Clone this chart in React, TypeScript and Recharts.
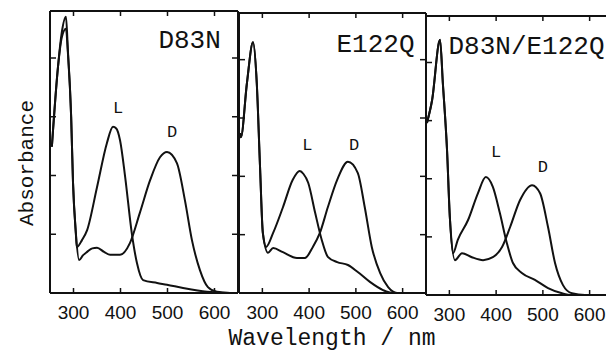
import React from 'react';
import { LineChart, Line, XAxis, YAxis, ReferenceDot } from 'recharts';

// ---- data: [wavelength nm, absorbance (arb. units)] ----
const WAVE_TICKS = [300, 400, 500, 600];
const ABS_TICKS = [1, 2, 3, 4];

const d83nL = [
  [254, 2.49], [256, 2.72], [267, 3.85], [275, 4.43], [284, 4.7], [288, 4.14], [295, 3.0], [299, 1.87],
  [305, 1.02], [307, 0.78], [318, 0.9], [329, 1.07], [350, 1.8], [371, 2.55], [384, 2.83], [391, 2.8],
  [399, 2.6], [410, 1.97], [424, 1.02], [435, 0.51], [448, 0.22], [478, 0.17], [499, 0.14], [533, 0.085],
  [584, 0.02], [633, 0.0],
];
const d83nD = [
  [254, 2.49], [256, 2.72], [267, 3.85], [275, 4.35], [284, 4.5], [288, 4.1], [295, 3.0], [299, 1.87],
  [305, 1.02], [312, 0.56], [320, 0.64], [329, 0.7], [340, 0.76], [350, 0.77], [365, 0.7], [378, 0.65],
  [399, 0.65], [420, 0.85], [441, 1.36], [463, 1.92], [484, 2.31], [499, 2.4], [520, 2.21], [537, 1.58],
  [552, 0.9], [569, 0.39], [586, 0.1], [605, 0.02], [633, 0.0],
];

const e122qL = [
  [252, 2.74], [254, 2.67], [267, 3.6], [280, 4.3], [288, 3.6], [295, 2.16], [301, 1.03], [308, 0.79],
  [323, 1.03], [344, 1.47], [365, 1.94], [380, 2.09], [388, 2.04], [398, 1.89], [413, 1.37], [427, 0.91],
  [440, 0.62], [460, 0.53], [483, 0.48], [504, 0.36], [530, 0.19], [558, 0.05], [579, 0.0], [640, 0.0],
];
const e122qD = [
  [252, 2.74], [254, 2.67], [267, 3.6], [280, 4.3], [288, 3.6], [295, 2.16], [301, 1.03], [312, 0.69],
  [323, 0.77], [344, 0.7], [374, 0.6], [391, 0.6], [408, 0.79], [423, 1.03], [440, 1.47], [460, 1.94],
  [483, 2.25], [504, 2.06], [519, 1.47], [534, 0.79], [552, 0.34], [569, 0.1], [588, 0.0], [640, 0.0],
];

const dblL = [
  [252, 2.96], [263, 3.35], [280, 4.39], [286, 3.65], [295, 2.49], [301, 1.34], [308, 0.72], [318, 0.95],
  [340, 1.29], [361, 1.75], [378, 2.03], [393, 1.86], [408, 1.41], [423, 0.89], [436, 0.55], [455, 0.38],
  [483, 0.26], [511, 0.12], [541, 0.03], [562, 0.0], [640, 0.0],
];
const dblD = [
  [252, 2.96], [263, 3.35], [280, 4.39], [286, 3.65], [295, 2.49], [301, 1.34], [312, 0.6], [327, 0.72],
  [348, 0.65], [372, 0.6], [393, 0.65], [413, 0.83], [430, 1.17], [451, 1.63], [477, 1.89], [494, 1.75],
  [511, 1.17], [526, 0.55], [543, 0.17], [562, 0.03], [590, 0.0], [640, 0.0],
];

// annotation text anchored in data units: [text, nm, absorbance, kind]
const d83nNotes: [string, number, number, string][] = [
  ['D83N', 547, 4.17, 'title'], ['L', 395, 3.06, 'band'], ['D', 510, 2.66, 'band'],
];
const e122qNotes: [string, number, number, string][] = [
  ['E122Q', 542, 4.13, 'title'], ['L', 396, 2.45, 'band'], ['D', 496, 2.45, 'band'],
];
const dblNotes: [string, number, number, string][] = [
  ['D83N/E122Q', 465, 4.15, 'title'], ['L', 400, 2.37, 'band'], ['D', 500, 2.12, 'band'],
];

const toRows = (arr: number[][]) => arr.map(([nm, a]) => ({ nm, a }));

// ---- layout ----
const W = 640;
const H = 356;
const HT = 10, HB = 40, WL = 10, WR = 10;
const INK = '#111';
const MONO = '"Liberation Mono", "DejaVu Sans Mono", monospace';
const SANS = '"Liberation Sans", Arial, sans-serif';

const panels = [
  { key: 'p1', L: d83nL, D: d83nD, notes: d83nNotes, left: 50, right: 238, top: 11, bottom: 293 },
  { key: 'p2', L: e122qL, D: e122qD, notes: e122qNotes, left: 239, right: 426, top: 13, bottom: 293 },
  { key: 'p3', L: dblL, D: dblD, notes: dblNotes, left: 426, right: 613, top: 16, bottom: 295 },
];

const BottomTick = (props: any) => {
  const { x, y, payload } = props;
  return (
    <g>
      <line x1={x} y1={y} x2={x} y2={y - 5} stroke={INK} strokeWidth={1.5} />
      <text x={x} y={y + 25.5} textAnchor="middle" fontFamily={SANS} fontSize={19} fill={INK}>
        {payload.value}
      </text>
    </g>
  );
};
const TopTick = (props: any) => {
  const { x, y } = props;
  return <line x1={x} y1={y} x2={x} y2={y + 5} stroke={INK} strokeWidth={1.5} />;
};
const LeftTick = (props: any) => {
  const { x, y } = props;
  return <line x1={x} y1={y} x2={x + 6} y2={y} stroke={INK} strokeWidth={1.5} />;
};
const RightTick = (props: any) => {
  const { x, y } = props;
  return <line x1={x} y1={y} x2={x - 6} y2={y} stroke={INK} strokeWidth={1.5} />;
};

const NoteShape = (text: string, kind: string) => (p: any) => (
  <text
    x={p.cx}
    y={p.cy}
    textAnchor="middle"
    fontFamily={MONO}
    fontSize={kind === 'title' ? 26 : 17}
    fill={INK}
  >
    {text}
  </text>
);

const axisLine = { stroke: INK, strokeWidth: 2 };

function Panel({ cfg }: { cfg: (typeof panels)[number] }) {
  const margin = {
    top: cfg.top - HT,
    bottom: H - cfg.bottom - HB,
    left: cfg.left - WL,
    right: W - cfg.right - WR,
  };
  return (
    <div style={{ position: 'absolute', left: 0, top: 0 }}>
      <LineChart width={W} height={H} margin={margin}>
        <XAxis
          xAxisId="b"
          orientation="bottom"
          type="number"
          dataKey="nm"
          domain={[250, 650]}
          allowDataOverflow
          ticks={WAVE_TICKS}
          interval={0}
          height={HB}
          tickSize={0}
          tickMargin={0}
          tickLine={false}
          axisLine={axisLine}
          tick={<BottomTick />}
        />
        <XAxis
          xAxisId="t"
          orientation="top"
          type="number"
          dataKey="nm"
          domain={[250, 650]}
          allowDataOverflow
          ticks={WAVE_TICKS}
          interval={0}
          height={HT}
          tickSize={0}
          tickMargin={0}
          tickLine={false}
          axisLine={axisLine}
          tick={<TopTick />}
        />
        <YAxis
          yAxisId="l"
          orientation="left"
          type="number"
          domain={[0, 4.8]}
          allowDataOverflow
          ticks={ABS_TICKS}
          interval={0}
          width={WL}
          tickSize={0}
          tickMargin={0}
          tickLine={false}
          axisLine={axisLine}
          tick={<LeftTick />}
        />
        <YAxis
          yAxisId="r"
          orientation="right"
          type="number"
          domain={[0, 4.8]}
          allowDataOverflow
          ticks={ABS_TICKS}
          interval={0}
          width={WR}
          tickSize={0}
          tickMargin={0}
          tickLine={false}
          axisLine={axisLine}
          tick={<RightTick />}
        />
        <Line
          data={toRows(cfg.L)}
          dataKey="a"
          xAxisId="b"
          yAxisId="l"
          type="monotone"
          stroke={INK}
          strokeWidth={2}
          dot={false}
          isAnimationActive={false}
        />
        <Line
          data={toRows(cfg.D)}
          dataKey="a"
          xAxisId="b"
          yAxisId="l"
          type="monotone"
          stroke={INK}
          strokeWidth={2}
          dot={false}
          isAnimationActive={false}
        />
        {cfg.notes.map(([text, nm, a, kind]) => (
          <ReferenceDot
            key={text + nm}
            x={nm}
            y={a}
            xAxisId="b"
            yAxisId="l"
            r={1}
            ifOverflow="visible"
            shape={NoteShape(text, kind)}
          />
        ))}
      </LineChart>
    </div>
  );
}

export default function App() {
  return (
    <div
      style={{
        position: 'absolute',
        left: 0,
        top: 0,
        width: 606,
        height: 356,
        overflow: 'hidden',
        background: '#fff',
      }}
    >
      {panels.map((p) => (
        <Panel key={p.key} cfg={p} />
      ))}
      <svg width={606} height={356} style={{ position: 'absolute', left: 0, top: 0, pointerEvents: 'none' }}>
        <text
          x={33}
          y={163}
          transform="rotate(-90 33 163)"
          textAnchor="middle"
          fontFamily={MONO}
          fontSize={21}
          fill={INK}
        >
          Absorbance
        </text>
        <text x={332} y={345} textAnchor="middle" fontFamily={MONO} fontSize={23} fill={INK}>
          Wavelength / nm
        </text>
      </svg>
    </div>
  );
}
